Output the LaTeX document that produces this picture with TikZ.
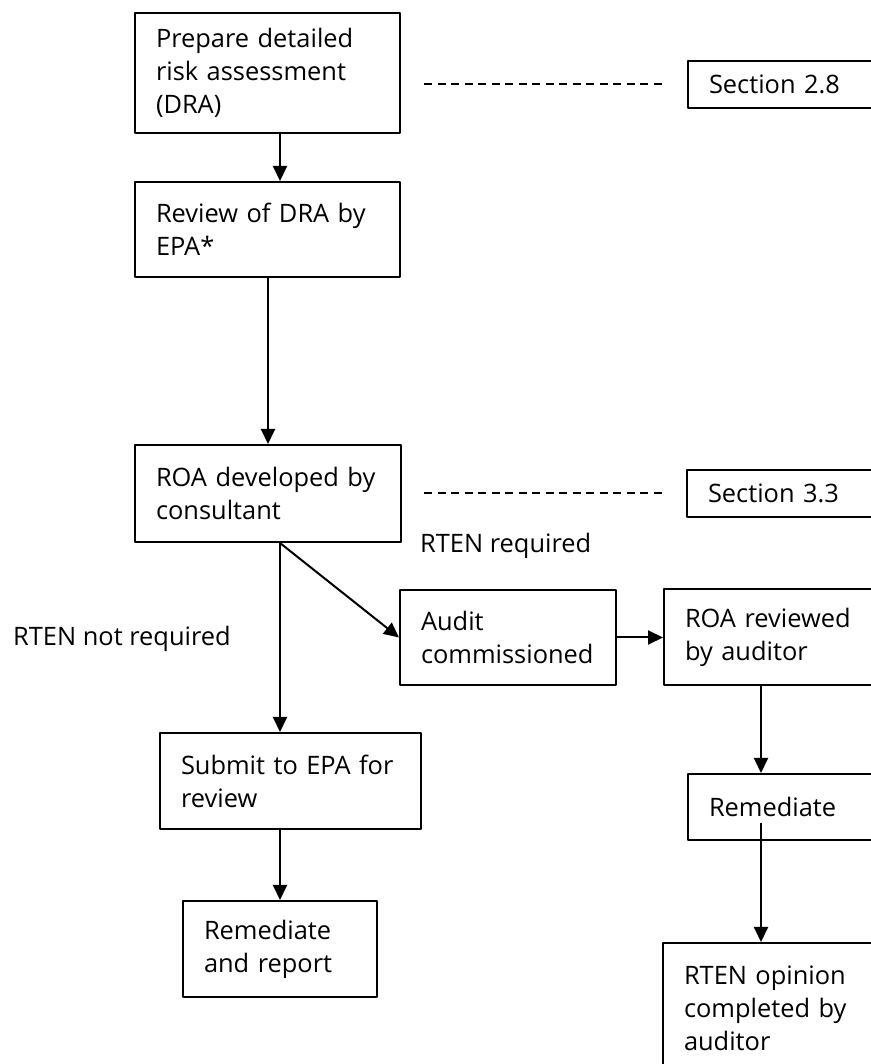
\documentclass[tikz,border=0pt]{standalone}
\usepackage{fontspec}
\setmainfont{Open Sans}
\usetikzlibrary{arrows.meta}

\begin{document}
\begin{tikzpicture}[>={Triangle[length=15bp,width=14bp]},line join=bevel,
  box/.style={draw,line width=2bp,align=left,inner xsep=21bp,inner ysep=2bp,
    font=\fontsize{25.5}{33}\selectfont},
  lbl/.style={anchor=base west,inner sep=0pt,font=\fontsize{25.5}{33}\selectfont},
  link/.style={->,line width=2bp},
  guide/.style={line width=2bp,dash pattern=on 8bp off 5.5bp}]
%
  \useasboundingbox (0bp,0bp) rectangle (871bp,1064bp);
  \clip (0bp,0bp) rectangle (871bp,1064bp);
  % left column
  \node (prep) at (267.5bp,991bp) [box,text width=223bp,minimum height=120bp] {Prepare detailed\\risk assessment\\(DRA)};
  \node (review) at (267.5bp,834.5bp) [box,text width=223bp,minimum height=95bp] {Review of DRA by\\EPA*};
  \node (roa) at (268bp,570.5bp) [box,text width=224bp,minimum height=97bp] {ROA developed by\\consultant};
  \node (submit) at (290.5bp,283bp) [box,text width=219bp,minimum height=96bp] {Submit to EPA for\\review};
  \node (remrep) at (280bp,115bp) [box,text width=152bp,minimum height=96bp] {Remediate\\and report};
  % right column
  \node (audit) at (508bp,426.5bp) [box,text width=174bp,minimum height=95bp] {Audit\\commissioned};
  \node (reviewed) at (794bp,427bp) [box,text width=218bp,minimum height=96bp] {ROA reviewed\\by auditor};
  \node (remed) at (808bp,257bp) [box,text width=198bp,minimum height=66bp] {Remediate};
  \node (opinion) at (793bp,56bp) [box,text width=218bp,minimum height=130bp] {RTEN opinion\\completed by\\auditor};
  \node (sec28) at (788bp,979.5bp) [box,text width=158bp,minimum height=47bp] {Section 2.8};
  \node (sec33) at (787bp,570.5bp) [box,text width=158bp,minimum height=47bp] {Section 3.3};
  \coordinate (rtrunk) at (761bp,0bp);
  % labels
  \node (lreq) at (420bp,511bp) [lbl] {RTEN required};
  \node (lnotreq) at (13bp,418bp) [lbl] {RTEN not required};
  % connectors
  \draw [link] (prep.south -| remrep) -- (review.north -| remrep);
  \draw [link] (review.south -| roa) -- (roa.north);
  \draw [link] (roa.south -| remrep) -- (submit.north -| remrep);
  \draw [link] (roa.south -| remrep) -- (audit.west);
  \draw [link] (submit.south -| remrep) -- (remrep.north);
  \draw [link] (audit.east) -- (reviewed.west |- audit.east);
  \draw [link] (reviewed.south -| rtrunk) -- (remed.north -| rtrunk);
  \draw [link] ([yshift=18bp]remed.south -| rtrunk) -- (opinion.north -| rtrunk);
  \draw [guide] ([xshift=23bp]prep.east |- sec28.west) -- ([xshift=-23bp]sec28.west);
  \draw [guide] ([xshift=22bp]roa.east) -- ([xshift=-22bp]sec33.west);
%
\end{tikzpicture}
\end{document}
